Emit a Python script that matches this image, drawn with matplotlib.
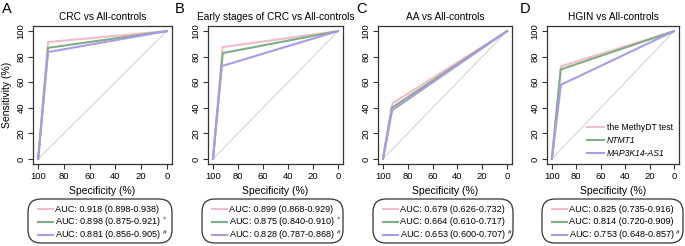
import matplotlib
matplotlib.use("Agg")
import matplotlib.pyplot as plt
from matplotlib.patches import FancyBboxPatch

plt.rcParams['font.family'] = ['Liberation Sans', 'DejaVu Sans']
plt.rcParams['mathtext.fontset'] = 'custom'
plt.rcParams['mathtext.rm'] = 'Liberation Sans'
plt.rcParams['mathtext.it'] = 'Liberation Sans:italic'

panel_letters = ["A", "B", "C", "D"]
titles = ["CRC vs All-controls", "Early stages of CRC vs All-controls",
          "AA vs All-controls", "HGIN vs All-controls"]
series_names = ["the MethyDT test", "NTMT1", "MAP3K14-AS1"]
colors = ["#F5BAC6", "#7FAE84", "#A99BE8"]

# operating point (specificity, sensitivity) per panel, per series
spec = [[92.3, 92.3, 92.3],
        [92.3, 92.2, 93.0],
        [92.3, 92.8, 92.6],
        [92.5, 92.8, 92.6]]
sens = [[91.4, 86.9, 83.6],
        [87.5, 82.8, 72.6],
        [43.5, 40.0, 38.0],
        [72.5, 70.0, 58.0]]
auc_text = [["0.918 (0.898-0.938)", "0.898 (0.875-0.921)", "0.881 (0.856-0.905)"],
            ["0.899 (0.868-0.929)", "0.875 (0.840-0.910)", "0.828 (0.787-0.868)"],
            ["0.679 (0.626-0.732)", "0.664 (0.610-0.717)", "0.653 (0.600-0.707)"],
            ["0.825 (0.735-0.916)", "0.814 (0.720-0.909)", "0.753 (0.648-0.857)"]]
marks = [["", "*", "#"], ["", "*", "#"], ["", "", "#"], ["", "", "#"]]
ticks = [100, 80, 60, 40, 20, 0]

W, H = 685, 246
fig = plt.figure(figsize=(W / 100, H / 100), dpi=100)

# overlay in pixel coordinates for the AUC boxes
ov = fig.add_axes([0, 0, 1, 1], zorder=5)
ov.set_xlim(0, W)
ov.set_ylim(H, 0)
ov.axis('off')
ov.patch.set_alpha(0)

ax_lr = [(33, 172), (208, 343), (378, 512), (547, 679)]
leg_lr = [(28, 172), (202, 343), (373, 513), (542, 683)]
letter_x = [2, 175, 356, 520]
ax_top, ax_bot = 26, 164
leg_top, leg_bot = 199, 243
rows_y = [209, 222, 235]

for i in range(4):
    l, r = ax_lr[i]
    ax = fig.add_axes([l / W, 1 - ax_bot / H, (r - l) / W, (ax_bot - ax_top) / H])
    ax.plot([100, 0], [0, 100], color="#C8C8C8", lw=0.6, zorder=1)
    for k in range(3):
        ax.plot([100, spec[i][k], 0], [0, sens[i][k], 100], color=colors[k],
                lw=1.5, zorder=2 + k, label=series_names[k])
    ax.set_xlim(104, -4)
    ax.set_ylim(-4, 104)
    ax.set_xticks(ticks)
    ax.set_yticks(ticks)
    ax.tick_params(labelsize=6.8, length=3.5, width=0.8, pad=2, color="#333333")
    for lab in ax.get_yticklabels():
        lab.set_rotation(90)
        lab.set_va('center')
    for sp in ax.spines.values():
        sp.set_linewidth(0.9)
        sp.set_color("#333333")
    ax.set_title(titles[i], fontsize=7.3, pad=4)
    ax.set_xlabel("Specificity (%)", fontsize=7.5, labelpad=4)
    if i == 0:
        ax.set_ylabel("Sensitivity (%)", fontsize=7.5, labelpad=3)
    if i == 3:
        leg = ax.legend(loc='lower right', frameon=False, fontsize=6.2,
                        handlelength=2.0, handletextpad=0.3, labelspacing=0.45,
                        borderaxespad=0.5, borderpad=0.2)
        for t in leg.get_texts()[1:]:
            t.set_fontstyle('italic')
    fig.text(letter_x[i] / W, 1 - 2 / H, panel_letters[i], fontsize=10.5,
             va='top', ha='left')

    # AUC legend box
    ll, lr = leg_lr[i]
    box = FancyBboxPatch((ll, leg_top), lr - ll, leg_bot - leg_top,
                         boxstyle="round,pad=0,rounding_size=13",
                         fill=False, edgecolor="#333333", lw=0.9)
    ov.add_patch(box)
    for k in range(3):
        y = rows_y[k]
        ov.plot([ll + 10, ll + 25], [y, y], color=colors[k], lw=1.5)
        txt = "AUC: " + auc_text[i][k]
        if marks[i][k]:
            sym = r"\ast" if marks[i][k] == "*" else r"\#"
            txt += r" $^{" + sym + "}$"
        ov.text(ll + 27, y, txt, fontsize=6.6, va='center', ha='left')

fig.savefig("out.png", dpi=100)
